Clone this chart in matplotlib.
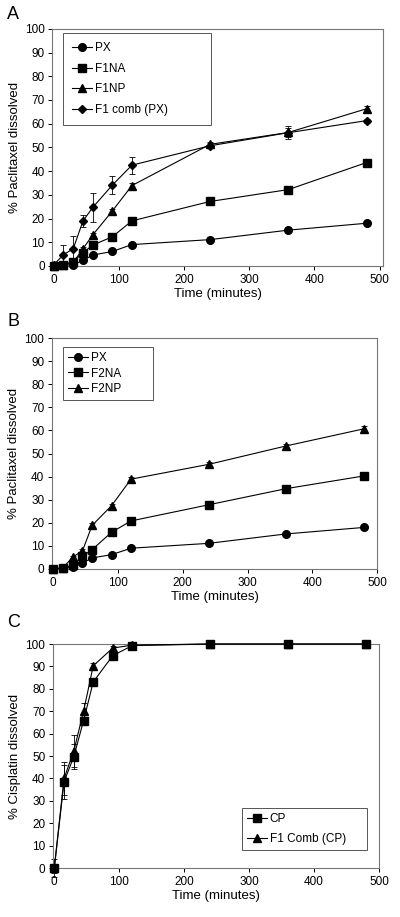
import numpy as np
import matplotlib
matplotlib.use("Agg")
import matplotlib.pyplot as plt

plt.rcParams["font.family"] = ["Liberation Sans", "DejaVu Sans"]

time = [0, 15, 30, 45, 60, 90, 120, 240, 360, 480]

# Panel A
a_px = [0, 0.3, 0.5, 2.3, 4.6, 6.1, 9.0, 11.1, 15.1, 18.0]
a_px_err = [0.5, 0.3, 0.3, 0.4, 0.4, 0.4, 0.5, 0.5, 0.6, 0.6]
a_f1na = [0, 0.5, 1.8, 5.6, 8.8, 12.3, 19.0, 27.2, 32.2, 43.6]
a_f1na_err = [0.5, 0.3, 0.4, 0.5, 0.6, 0.6, 0.8, 0.8, 0.8, 1.0]
a_f1np = [0, 0.3, 1.5, 7.3, 13.1, 23.2, 33.9, 51.3, 56.3, 66.3]
a_f1np_err = [0.5, 0.3, 0.5, 0.8, 0.8, 0.8, 1.0, 1.0, 2.8, 1.2]
a_comb = [0.5, 4.7, 7.3, 19.0, 24.7, 34.1, 42.5, 50.7, 56.2, 61.3]
a_comb_err = [1.0, 4.3, 5.3, 2.5, 6.2, 3.7, 3.6, 1.0, 2.0, 0.8]

# Panel B
b_px = [0, 0.4, 0.7, 2.5, 4.8, 6.2, 9.0, 11.1, 15.2, 18.0]
b_px_err = [0.3, 0.3, 0.3, 0.4, 0.4, 0.4, 0.5, 0.5, 0.6, 0.6]
b_f2na = [0, 0.5, 1.6, 5.5, 8.4, 15.9, 20.8, 27.8, 34.8, 40.3]
b_f2na_err = [0.3, 0.3, 0.4, 0.5, 0.6, 0.6, 0.8, 0.8, 0.8, 1.0]
b_f2np = [0, 0.5, 5.2, 7.8, 18.9, 27.4, 38.9, 45.3, 53.3, 60.7]
b_f2np_err = [0.3, 0.3, 0.6, 0.8, 0.8, 0.8, 1.0, 1.0, 1.0, 1.2]

# Panel C
c_cp = [0, 38.5, 49.7, 65.7, 83.1, 94.8, 99.3, 100, 100, 100]
c_cp_err = [2.0, 7.5, 5.7, 1.5, 1.0, 1.0, 0.5, 0.3, 0.3, 0.3]
c_comb = [0, 40.0, 52.2, 69.9, 90.3, 98.2, 99.5, 100, 100, 100]
c_comb_err = [4.0, 7.5, 7.2, 3.7, 1.0, 0.8, 0.5, 0.3, 0.3, 0.3]

fig = plt.figure(figsize=(4.0, 9.17), dpi=100)

def style_axes(ax, ylabel, xmax=500):
    ax.set_xlim(-2, xmax)
    ax.set_ylim(0, 100)
    ax.set_xticks(range(0, 501, 100))
    ax.set_yticks(range(0, 101, 10))
    ax.tick_params(direction="out", length=3, width=0.7, labelsize=8.5, pad=2.5)
    ax.set_xlabel("Time (minutes)", fontsize=9.5, labelpad=2)
    ax.set_ylabel(ylabel, fontsize=9.5, labelpad=3)
    for s in ax.spines.values():
        s.set_color("#777777")
        s.set_linewidth(0.8)

def series(ax, y, err, marker, ms, label):
    ax.errorbar(time, y, yerr=err, fmt="none", ecolor="black",
                elinewidth=0.6, capsize=2, capthick=0.6, clip_on=False, zorder=2)
    ax.plot(time, y, color="black", marker=marker, ms=ms, lw=0.8,
            label=label, clip_on=False, zorder=3)

def legend(ax, **kw):
    leg = ax.legend(fontsize=8.5, fancybox=False, framealpha=1, edgecolor="#555555",
                    handlelength=1.7, handletextpad=0.2, borderaxespad=0,
                    mode="expand", **kw)
    leg.get_frame().set_linewidth(0.7)

# Panel A
axA = fig.add_axes([0.131, 0.710, 0.826, 0.2585])
series(axA, a_px, a_px_err, "o", 5.5, "PX")
series(axA, a_f1na, a_f1na_err, "s", 5.5, "F1NA")
series(axA, a_f1np, a_f1np_err, "^", 5.5, "F1NP")
series(axA, a_comb, a_comb_err, "D", 4.5, "F1 comb (PX)")
style_axes(axA, "% Paclitaxel dissolved", xmax=505)
legend(axA, loc="upper left", bbox_to_anchor=(0.032, 0.483, 0.448, 0.5),
       labelspacing=0.72, borderpad=0.8)

# Panel B
axB = fig.add_axes([0.13, 0.3795, 0.8125, 0.2519])
series(axB, b_px, b_px_err, "o", 5.5, "PX")
series(axB, b_f2na, b_f2na_err, "s", 5.5, "F2NA")
series(axB, b_f2np, b_f2np_err, "^", 5.5, "F2NP")
style_axes(axB, "% Paclitaxel dissolved")
legend(axB, loc="upper left", bbox_to_anchor=(0.034, 0.461, 0.277, 0.5),
       labelspacing=0.27, borderpad=0.45)

# Panel C
axC = fig.add_axes([0.1325, 0.0534, 0.815, 0.2443])
series(axC, c_cp, c_cp_err, "s", 5.5, "CP")
series(axC, c_comb, c_comb_err, "^", 5.5, "F1 Comb (CP)")
style_axes(axC, "% Cisplatin dissolved")
legend(axC, loc="lower left", bbox_to_anchor=(0.58, 0.08, 0.383, 0.5),
       labelspacing=0.65, borderpad=0.45)

fig.text(0.018, 0.984, "A", fontsize=13, va="center")
fig.text(0.018, 0.649, "B", fontsize=13, va="center")
fig.text(0.018, 0.321, "C", fontsize=13, va="center")

fig.savefig("out.png", dpi=100)
